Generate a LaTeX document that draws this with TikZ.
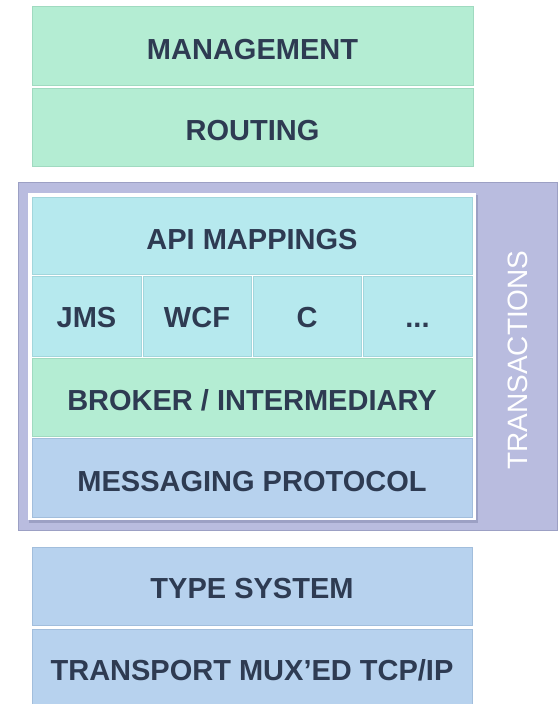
\documentclass[tikz,border=0pt]{standalone}
\usepackage{fontspec}
\setmainfont{Liberation Sans}

\definecolor{greenfill}{RGB}{180,237,211}
\definecolor{greenedge}{RGB}{160,218,192}
\definecolor{cyanfill}{RGB}{182,233,238}
\definecolor{cyanedge}{RGB}{162,214,220}
\definecolor{bluefill}{RGB}{183,210,238}
\definecolor{blueedge}{RGB}{162,190,220}
\definecolor{purplefill}{RGB}{185,188,223}
\definecolor{purpleedge}{RGB}{156,160,196}
\definecolor{inkcol}{RGB}{46,59,82}

\tikzset{every picture/.style={line width=0.75pt}}
\tikzset{
  layertext/.style={font=\fontsize{21.75}{24}\selectfont\bfseries, text=inkcol},
  sidetext/.style={font=\fontsize{21}{24}\selectfont, text=white, rotate=90},
  greenlayer/.style={fill=greenfill, draw=greenedge},
  cyanlayer/.style={fill=cyanfill, draw=cyanedge},
  bluelayer/.style={fill=bluefill, draw=blueedge},
}

\begin{document}
\begin{tikzpicture}[x=0.75pt,y=0.75pt,yscale=-1,xscale=1]
\useasboundingbox (0,0) rectangle (560,704);

%Shape: Rectangle (management)
\draw  [greenlayer] (32,6) rectangle (473,85) ;
%Shape: Rectangle (routing)
\draw  [greenlayer] (32,88) rectangle (473,166) ;

%Shape: Rectangle (transactions frame)
\draw  [fill=purplefill, draw=purpleedge] (18,182) rectangle (557,530) ;
%Shape: Rectangle (frame shadow)
\fill  [purpleedge] (29,195) rectangle (478,523) ;
%Shape: Rectangle (white frame)
\fill  [white] (28,193) rectangle (476,520) ;

%Shape: Rectangle (api mappings)
\draw  [cyanlayer] (32,197) rectangle (472,274) ;
%Shape: Rectangle (jms)
\draw  [cyanlayer] (32,276) rectangle (141,356) ;
%Shape: Rectangle (wcf)
\draw  [cyanlayer] (143,276) rectangle (251,356) ;
%Shape: Rectangle (c)
\draw  [cyanlayer] (253,276) rectangle (361,356) ;
%Shape: Rectangle (more)
\draw  [cyanlayer] (363,276) rectangle (472,356) ;
%Shape: Rectangle (broker)
\draw  [greenlayer] (32,358) rectangle (472,436) ;
%Shape: Rectangle (messaging)
\draw  [bluelayer] (32,438) rectangle (472,517) ;

%Shape: Rectangle (type system)
\draw  [bluelayer] (32,547) rectangle (472,625) ;
%Shape: Rectangle (transport)
\draw  [bluelayer] (32,629) rectangle (472,708) ;

% Text Node
\draw (252.5,50) node (management) [layertext] {MANAGEMENT};
% Text Node
\draw (252.5,131) node (routing) [layertext] {ROUTING};
% Text Node
\draw (252,240) node (api) [layertext] {API MAPPINGS};
% Text Node
\draw (86.5,318) node (jms) [layertext] {JMS};
% Text Node
\draw (197,318) node (wcf) [layertext] {WCF};
% Text Node
\draw (307,318) node (c) [layertext] {C};
% Text Node
\draw (417.5,318) node (more) [layertext] {\vphantom{C}...};
% Text Node
\draw (252,400) node (broker) [layertext] {BROKER / INTERMEDIARY};
% Text Node
\draw (252,482) node (messaging) [layertext] {MESSAGING PROTOCOL};
% Text Node
\draw (518,360) node (transactions) [sidetext] {TRANSACTIONS};
% Text Node
\draw (252,589) node (typesystem) [layertext] {TYPE SYSTEM};
% Text Node
\draw (252,670) node (transport) [layertext] {TRANSPORT MUX’ED TCP/IP};

\end{tikzpicture}
\end{document}
